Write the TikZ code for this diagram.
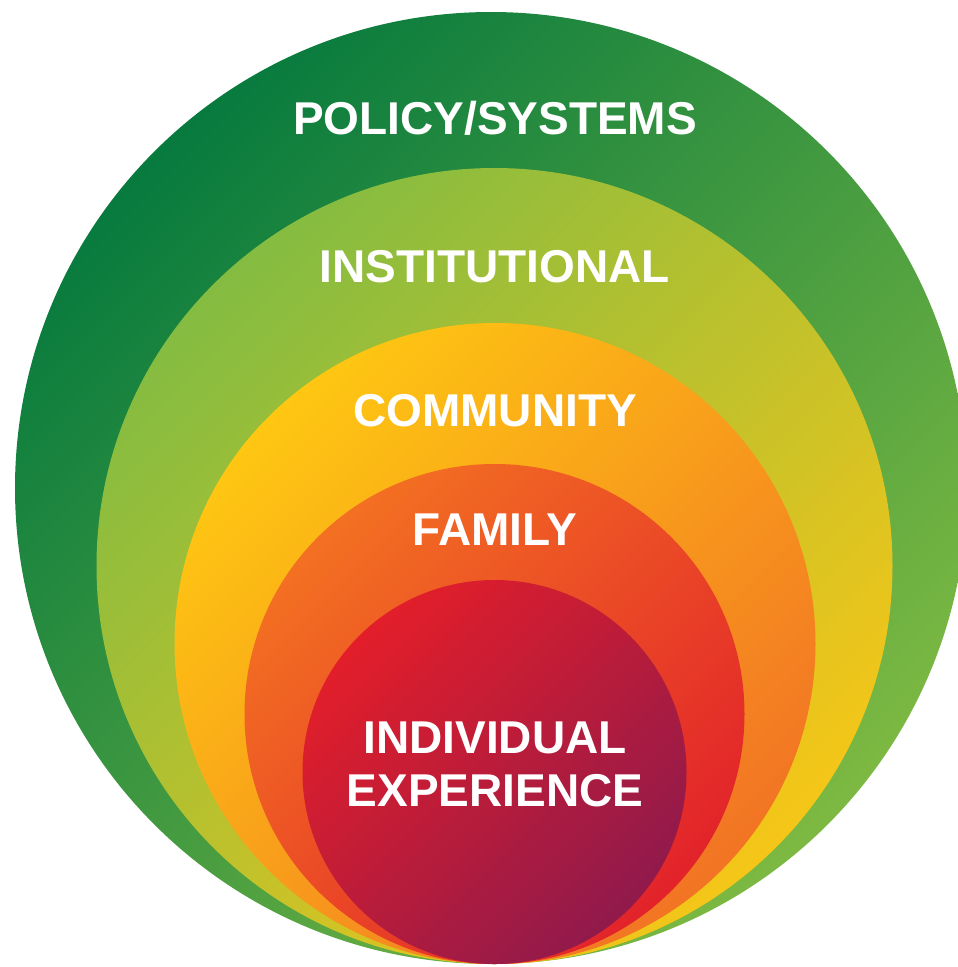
\documentclass[tikz,border=0pt]{standalone}
\usepackage{fontspec}
\setmainfont{Liberation Sans}
\definecolor{polA}{HTML}{077A3E}
\definecolor{polB}{HTML}{3C8D45}
\definecolor{polC}{HTML}{7DB942}
\definecolor{insA}{HTML}{84BC41}
\definecolor{insB}{HTML}{C2C134}
\definecolor{insC}{HTML}{F5C618}
\definecolor{comA}{HTML}{FEC712}
\definecolor{comB}{HTML}{F8A01F}
\definecolor{comC}{HTML}{F27424}
\definecolor{famA}{HTML}{F37022}
\definecolor{famB}{HTML}{EB4B27}
\definecolor{famC}{HTML}{E2232A}
\definecolor{indA}{HTML}{E31E2A}
\definecolor{indB}{HTML}{BA1D3B}
\definecolor{indC}{HTML}{901A4B}
\begin{document}
\begin{tikzpicture}[x=1pt,y=-1pt,
  ring/.style={circle, draw=none, inner sep=0pt, minimum size=#1},
  grad/.style n args={3}{top color=#1, middle color=#2, bottom color=#3, shading angle=45},
  lbl/.style={text=white, font=\fontsize{46}{52}\selectfont\bfseries, anchor=base, inner sep=0pt}]
  \useasboundingbox (0,0) rectangle (958,967);
  % nested circles, all touching at the bottom
  \node[ring=952pt, grad={polA}{polB}{polC}] (policy) at (491,488) {};
  \node[ring=796pt, grad={insA}{insB}{insC}] (inst) at (494.5,566) {};
  \node[ring=641pt, grad={comA}{comB}{comC}] (comm) at (495,643.5) {};
  \node[ring=500pt, grad={famA}{famB}{famC}] (family) at (494.5,714) {};
  \node[ring=384pt, grad={indA}{indB}{indC}] (indiv) at (494.5,772) {};
  % labels
  \node[lbl] (tpolicy) at (495,134) {POLICY/SYSTEMS};
  \node[lbl] (tinst) at (495,282) {INSTITUTIONAL};
  \node[lbl] (tcomm) at (495,426) {COMMUNITY};
  \node[lbl] (tfamily) at (495,545) {FAMILY};
  \node[lbl] (tindiv) at (495,753) {INDIVIDUAL};
  \node[lbl] (texp) at (495,806) {EXPERIENCE};
\end{tikzpicture}
\end{document}
